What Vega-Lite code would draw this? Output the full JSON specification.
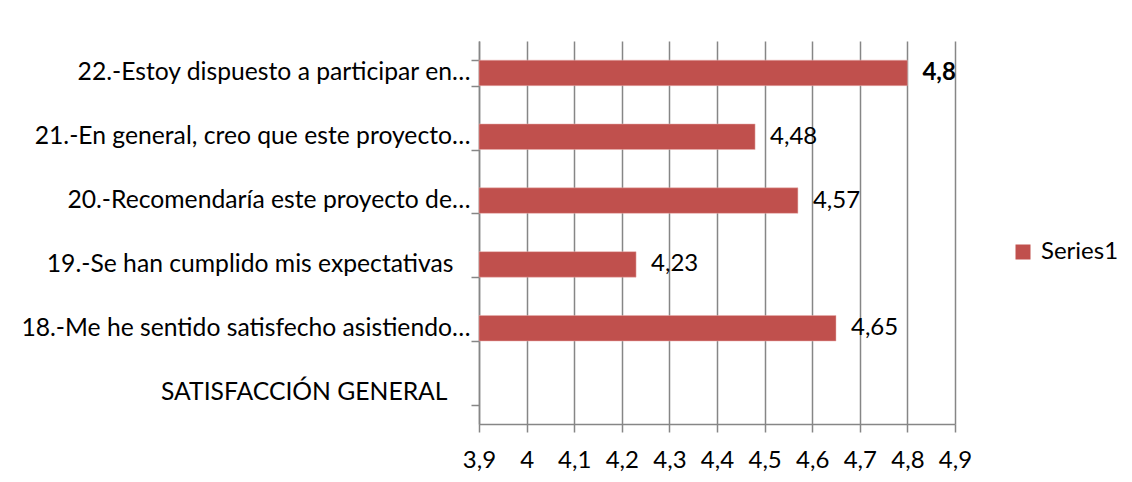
{
  "$schema": "https://vega.github.io/schema/vega-lite/v6.json",
  "width": 476,
  "height": 383,
  "autosize": {"type": "none"},
  "padding": {"left": 479, "top": 41, "right": 177, "bottom": 58},
  "background": "white",
  "config": {
    "locale": {"number": {"decimal": ",", "thousands": ".", "grouping": [3], "currency": ["", " €"]}},
    "view": {"stroke": null},
    "font": "Lato"
  },
  "data": {
    "values": [
      {"item": "22.-Estoy dispuesto a participar en…", "value": 4.8},
      {"item": "21.-En general, creo que este proyecto…", "value": 4.48},
      {"item": "20.-Recomendaría este proyecto de…", "value": 4.57},
      {"item": "19.-Se han cumplido mis expectativas", "value": 4.23},
      {"item": "18.-Me he sentido satisfecho asistiendo…", "value": 4.65},
      {"item": "SATISFACCIÓN GENERAL", "value": null}
    ]
  },
  "encoding": {
    "y": {
      "field": "item",
      "type": "nominal",
      "sort": null,
      "title": null,
      "scale": {
        "domain": [
          "22.-Estoy dispuesto a participar en…",
          "21.-En general, creo que este proyecto…",
          "20.-Recomendaría este proyecto de…",
          "19.-Se han cumplido mis expectativas",
          "18.-Me he sentido satisfecho asistiendo…",
          "SATISFACCIÓN GENERAL"
        ],
        "paddingInner": 0.6,
        "paddingOuter": 0.3
      },
      "axis": {
        "tickBand": "extent",
        "domainColor": "#868686",
        "domainWidth": 1.5,
        "tickColor": "#868686",
        "tickWidth": 1.5,
        "tickSize": 8,
        "labelFontSize": 24.7,
        "labelColor": "black",
        "labelPadding": {
          "condition": [
            {"test": "datum.value == 'SATISFACCIÓN GENERAL'", "value": 24},
            {"test": "datum.value == '19.-Se han cumplido mis expectativas'", "value": 18}
          ],
          "value": 1
        },
        "labelLimit": 480,
        "grid": false
      }
    },
    "x": {
      "field": "value",
      "type": "quantitative",
      "title": null,
      "scale": {"domain": [3.9, 4.9], "zero": false, "nice": false},
      "axis": {
        "values": [3.9, 4, 4.1, 4.2, 4.3, 4.4, 4.5, 4.6, 4.7, 4.8, 4.9],
        "format": "~g",
        "grid": true,
        "gridColor": "#868686",
        "gridWidth": 1.5,
        "domainColor": "#868686",
        "domainWidth": 1.5,
        "tickColor": "#868686",
        "tickWidth": 1.5,
        "tickSize": 8,
        "labelFontSize": 24,
        "labelColor": "black",
        "labelPadding": 16,
        "labelFlush": false
      }
    }
  },
  "layer": [
    {
      "mark": {"type": "bar", "stroke": "#e8b0ae", "strokeWidth": 0.5},
      "encoding": {
        "x2": {"datum": 3.9},
        "color": {
          "datum": "Series1",
          "type": "nominal",
          "scale": {"range": ["#C0504D"]},
          "legend": {
            "title": null,
            "orient": "none",
            "legendX": 532,
            "legendY": 199,
            "symbolType": "square",
            "symbolSize": 225,
            "symbolStrokeWidth": 0,
            "labelFontSize": 24,
            "labelColor": "black",
            "padding": 0,
            "labelOffset": 6
          }
        }
      }
    },
    {
      "transform": [{"filter": "datum.value != null && datum.value != 4.8"}],
      "mark": {"type": "text", "align": "left", "baseline": "middle", "dx": 15, "fontSize": 24, "color": "black"},
      "encoding": {"text": {"field": "value", "type": "quantitative", "format": "~g"}}
    },
    {
      "transform": [{"filter": "datum.value == 4.8"}],
      "mark": {"type": "text", "align": "left", "baseline": "middle", "dx": 15, "fontSize": 24, "fontWeight": "bold", "color": "black"},
      "encoding": {"text": {"field": "value", "type": "quantitative", "format": "~g"}}
    }
  ]
}
